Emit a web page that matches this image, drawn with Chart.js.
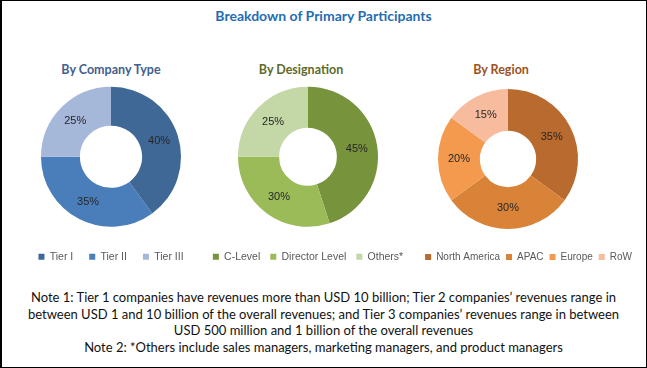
<!DOCTYPE html>
<html>
<head>
<meta charset="utf-8">
<script src="https://cdn.jsdelivr.net/npm/chart.js@4.4.1/dist/chart.umd.min.js"></script>
<style>
  body { margin: 0; background: #fff; }
  #frame { position: relative; width: 647px; height: 368px; overflow: hidden; font-family: Lato, sans-serif; background: #fff; }
  #border { position: absolute; left: 0; top: 0; width: 647px; height: 368px; box-sizing: border-box; border: 1px solid #000; border-left-width: 2px; pointer-events: none; }
  .abs { position: absolute; }
  #title { left: 0; width: 647px; top: 7px; line-height: 18px; text-align: center; font-weight: bold; font-size: 14px; color: #1f6db3; }
  .sub { width: 200px; top: 61px; line-height: 17px; text-align: center; font-weight: bold; font-size: 12.5px; }
  #notes { left: 0; width: 647px; top: 289px; text-align: center; font-size: 13px; line-height: 16.5px; color: #111; }
  canvas { position: absolute; }
</style>
</head>
<body>
<div id="frame">
  <div id="title" class="abs">Breakdown of Primary Participants</div>
  <div class="abs sub" style="left: 11px; color: #43608d;">By Company Type</div>
  <div class="abs sub" style="left: 201px; color: #5e6b2c;">By Designation</div>
  <div class="abs sub" style="left: 401px; color: #9c5222;">By Region</div>

  <canvas id="companyChart" width="200" height="194" style="left: 11px; top: 78px;"></canvas>
  <canvas id="designationChart" width="220" height="200" style="left: 198px; top: 72px;"></canvas>
  <canvas id="regionChart" width="260" height="200" style="left: 378px; top: 72px;"></canvas>

  <div id="notes" class="abs">
    Note 1: Tier 1 companies have revenues more than USD 10 billion; Tier 2 companies’ revenues range in<br>
    between USD 1 and 10 billion of the overall revenues; and Tier 3 companies’ revenues range in between<br>
    USD 500 million and 1 billion of the overall revenues<br>
    Note 2: *Others include sales managers, marketing managers, and product managers
  </div>
  <div id="border"></div>
</div>

<script>
const companyTypes = ["Tier I", "Tier II", "Tier III"];
const companyShares = [40, 35, 25];

const designations = ["C-Level", "Director Level", "Others*"];
const designationShares = [45, 30, 25];

const regions = ["North America", "APAC", "Europe", "RoW"];
const regionShares = [35, 30, 20, 15];

const companyColors = ["#3f6896", "#4a7ebb", "#a6b8da"];
const designationColors = ["#77933c", "#9bbb59", "#c4d7a6"];
const regionColors = ["#b86a2f", "#d98339", "#f49a4e", "#f7bb9d"];

// draws "40%" etc. in the middle of each slice
const sliceLabels = {
  id: "sliceLabels",
  afterDatasetsDraw(chart) {
    const ctx = chart.ctx;
    const values = chart.data.datasets[0].data;
    ctx.save();
    ctx.font = "11px 'Liberation Sans'";
    ctx.fillStyle = "#262626";
    ctx.textAlign = "center";
    ctx.textBaseline = "middle";
    chart.getDatasetMeta(0).data.forEach((arc, i) => {
      const p = arc.tooltipPosition();
      ctx.fillText(values[i] + "%", p.x, p.y);
    });
    ctx.restore();
  },
};

function makeDonut(id, labels, values, colors, gap, align, fontSize) {
  const ctx = document.getElementById(id).getContext("2d");
  return new Chart(ctx, {
    type: "doughnut",
    data: {
      labels: labels,
      datasets: [
        {
          data: values,
          backgroundColor: colors,
          borderWidth: 0,
          radius: 70,
          cutout: 35,
        },
      ],
    },
    options: {
      responsive: false,
      animation: false,
      plugins: {
        tooltip: { enabled: false },
        legend: {
          position: "bottom",
          align: align,
          labels: {
            boxWidth: 6,
            boxHeight: 6,
            padding: gap,
            color: "#595959",
            font: { family: "'Liberation Sans'", size: fontSize },
          },
        },
      },
    },
    plugins: [sliceLabels],
  });
}

makeDonut("companyChart", companyTypes, companyShares, companyColors, 16, "center", 10.5);
makeDonut("designationChart", designations, designationShares, designationColors, 10, "center", 10.5);
makeDonut("regionChart", regions, regionShares, regionColors, 6, "end", 10);
</script>
</body>
</html>
